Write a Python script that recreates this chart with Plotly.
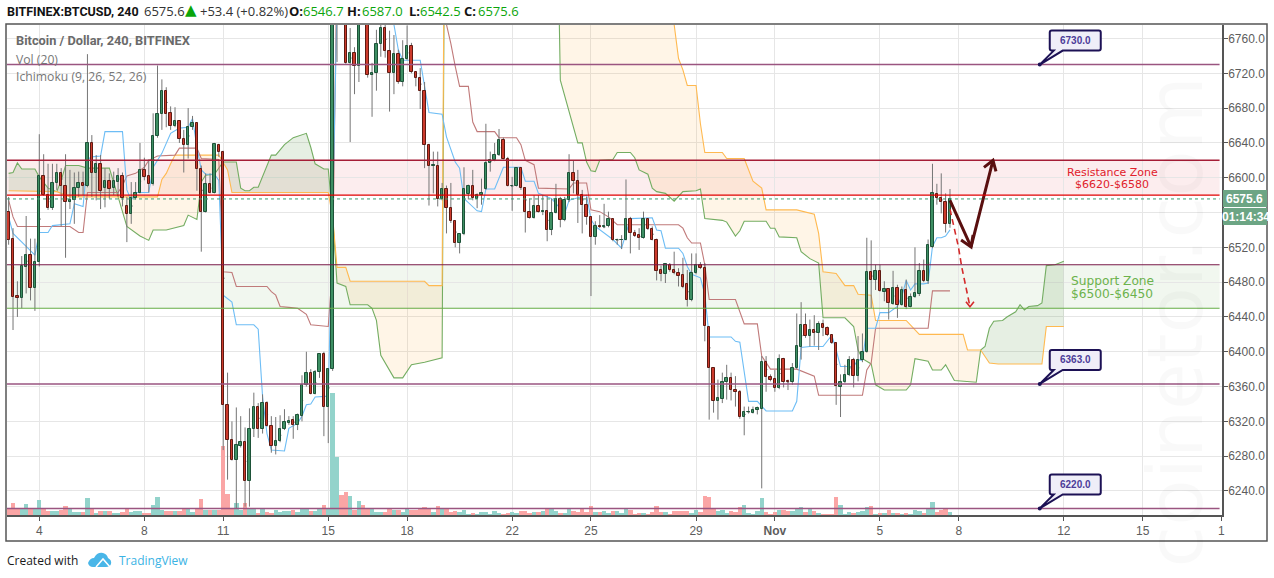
import pandas as pd
import plotly.graph_objects as go

# ------------------------------------------------------------------------------
# 1. DATA (BITFINEX BTCUSD, 4h candles)
# ------------------------------------------------------------------------------
START_TIME = "2018-10-02 20:00"
AXIS_RANGE = ["2018-10-02 18:30", "2018-11-18 00:30"]

OPENS = [
    6561,6530,6464,6462,6497,6511,6473,6503,6602,6580,
    6565,6594,6606,6591,6572,6574,6588,6594,6590,6640,
    6606,6616,6588,6596,6588,6595,6602,6567,6558,6577,
    6583,6609,6602,6593,6648,6673,6700,6674,6660,6665,
    6644,6638,6658,6663,6610,6561,6593,6583,6638,6630,
    6339,6299,6276,6292,6296,6252,6311,6336,6311,6341,
    6315,6292,6297,6311,6318,6322,6316,6326,6362,6376,
    6352,6377,6397,6337,6380,6870,6920,6860,6732,6743,
    6728,6800,6790,6718,6720,6754,6772,6746,6720,6742,
    6710,6736,6751,6721,6715,6700,6638,6614,6614,6575,
    6587,6565,6550,6525,6535,6581,6591,6576,6580,6587,
    6617,6620,6626,6643,6622,6590,6590,6611,6588,6561,
    6554,6568,6561,6562,6540,6560,6576,6551,6574,6606,
    6596,6580,6569,6555,6532,6545,6543,6544,6552,6528,
    6529,6529,6552,6537,6534,6531,6552,6541,6529,6494,
    6489,6500,6494,6491,6488,6478,6460,6490,6500,6496,
    6428,6381,6343,6346,6365,6370,6356,6354,6325,6331,
    6330,6333,6334,6388,6371,6369,6358,6392,6366,6365,
    6381,6406,6431,6418,6425,6421,6432,6427,6419,6410,
    6360,6365,6373,6390,6372,6391,6400,6492,6482,6493,
    6469,6472,6455,6473,6454,6471,6452,6463,6466,6493,
    6481,6520,6581,6577,6572,6546.7,
]
HIGHS = [
    6578,6542,6481,6510,6556,6530,6530,6650,6627,6616,
    6616,6616,6611,6627,6609,6606,6607,6607,6742,6649,
    6626,6626,6611,6605,6607,6611,6606,6578,6595,6595,
    6640,6623,6621,6674,6729,6713,6704,6682,6681,6666,
    6655,6680,6671,6664,6614,6605,6605,6640,6639,6631,
    6376,6320,6336,6326,6313,6335,6353,6341,6351,6343,
    6326,6325,6327,6334,6326,6326,6329,6373,6400,6380,
    6379,6398,6400,6381,6950,7000,6950,6880,6772,6750,
    6810,6830,6795,6732,6770,6785,6785,6769,6764,6747,
    6758,6775,6755,6722,6726,6710,6639,6630,6630,6594,
    6591,6594,6551,6536,6612,6592,6609,6582,6599,6662,
    6630,6640,6656,6646,6624,6601,6611,6612,6589,6576,
    6580,6580,6580,6579,6576,6593,6578,6578,6627,6620,
    6609,6586,6578,6556,6550,6557,6570,6561,6553,6530,
    6534,6598,6555,6540,6542,6561,6553,6544,6530,6499,
    6502,6502,6515,6496,6508,6494,6513,6513,6503,6502,
    6429,6382,6368,6376,6385,6376,6372,6356,6337,6337,
    6337,6337,6395,6395,6374,6379,6397,6393,6368,6387,
    6444,6457,6444,6437,6442,6435,6437,6429,6420,6411,
    6374,6385,6395,6393,6418,6421,6531,6528,6500,6500,
    6481,6473,6493,6477,6475,6483,6467,6520,6502,6506,
    6529,6616,6593,6605,6582,6587,
]
LOWS = [
    6523,6425,6440,6450,6467,6459,6447,6498,6579,6563,
    6563,6586,6544,6508,6564,6547,6578,6580,6589,6578,
    6574,6564,6566,6576,6580,6578,6567,6526,6547,6575,
    6582,6597,6583,6591,6646,6655,6658,6655,6658,6640,
    6606,6622,6655,6585,6515,6560,6582,6582,6624,6287,
    6253,6275,6220,6290,6222,6222,6302,6301,6306,6314,
    6284,6282,6296,6310,6316,6300,6310,6320,6360,6351,
    6351,6370,6303,6295,6378,6733,6800,6731,6641,6696,
    6710,6780,6715,6670,6700,6739,6738,6676,6696,6708,
    6705,6735,6720,6705,6679,6611,6568,6582,6567,6574,
    6536,6548,6520,6513,6534,6575,6574,6565,6569,6586,
    6607,6619,6625,6621,6590,6562,6590,6586,6537,6553,
    6553,6560,6557,6527,6534,6559,6543,6550,6572,6582,
    6548,6536,6546,6464,6523,6542,6542,6543,6527,6523,
    6518,6528,6513,6532,6517,6530,6540,6528,6482,6481,
    6479,6492,6489,6475,6473,6452,6458,6489,6495,6412,
    6322,6330,6322,6341,6345,6344,6337,6323,6304,6329,
    6329,6328,6243,6354,6366,6354,6357,6359,6356,6362,
    6380,6391,6416,6406,6407,6402,6418,6418,6409,6339,
    6325,6364,6372,6359,6366,6388,6399,6450,6471,6469,
    6458,6437,6454,6439,6453,6449,6451,6462,6464,6480,
    6478,6519,6569,6559,6537,6542.5,
]
CLOSES = [
    6528,6463,6462,6498,6511,6473,6503,6602,6580,6565,
    6594,6606,6591,6572,6574,6588,6594,6590,6640,6606,
    6616,6585,6596,6587,6596,6602,6577,6558,6577,6583,
    6609,6601,6593,6648,6673,6700,6673,6660,6665,6645,
    6638,6658,6663,6610,6561,6593,6583,6639,6630,6339,
    6299,6276,6293,6296,6252,6311,6336,6311,6341,6315,
    6292,6297,6311,6319,6321,6316,6327,6362,6376,6352,
    6377,6397,6337,6380,6870,6920,6860,6732,6743,6728,
    6800,6790,6718,6720,6754,6772,6746,6720,6742,6710,
    6736,6751,6721,6715,6700,6638,6614,6615,6575,6587,
    6565,6550,6525,6535,6587,6591,6577,6580,6582,6617,
    6620,6626,6643,6622,6591,6591,6611,6588,6561,6554,
    6568,6561,6562,6540,6560,6576,6551,6574,6606,6596,
    6580,6569,6555,6532,6545,6543,6544,6552,6528,6529,
    6529,6552,6537,6533,6531,6552,6541,6529,6493,6489,
    6501,6494,6490,6487,6474,6460,6490,6500,6496,6430,
    6381,6343,6347,6365,6370,6356,6354,6325,6331,6331,
    6333,6335,6388,6371,6368,6358,6392,6365,6365,6381,
    6407,6431,6418,6425,6421,6432,6427,6419,6410,6361,
    6365,6373,6390,6372,6391,6400,6492,6482,6493,6470,
    6472,6456,6473,6454,6471,6452,6463,6467,6493,6481,
    6523,6582,6577,6572,6546.7,6575.6,
]
VOLUMES = [
    19,35,17,19,32,17,17,44,21,12,
    11,11,15,26,20,8,8,8,50,20,
    5,11,11,11,4,4,8,17,8,11,
    13,7,7,29,53,14,11,11,11,11,
    21,17,9,22,47,15,15,15,15,206,
    62,20,37,14,35,20,20,7,20,9,
    7,14,9,11,11,14,8,18,20,11,
    11,19,29,22,365,175,60,69,57,15,
    42,30,20,20,9,9,9,20,15,15,
    9,17,15,15,18,24,20,9,27,18,
    20,9,12,9,15,3,6,3,9,9,
    3,12,6,3,6,9,7,12,12,6,
    9,9,12,20,18,12,6,6,18,12,
    9,18,9,27,9,9,12,6,12,12,
    6,20,15,3,6,6,3,9,27,9,
    9,3,12,12,12,12,6,15,9,57,
    54,21,12,15,6,12,9,24,30,6,
    3,12,51,9,3,9,15,15,12,12,
    18,24,9,18,12,6,3,3,3,54,
    30,3,9,6,9,12,24,27,3,6,
    6,15,6,6,3,6,3,15,12,6,
    21,39,9,15,21,9,
]

# Ichimoku lines: bar number and price at each bend
TENKAN_BARS = [0,1,4,6,7,9,10,14,15,17,18,19,21,22,26,27,28,29,32,33,35,37,39,41,42,43,44,45,47,48,
               49,51,52,56,57,58,59,60,63,64,66,67,68,69,70,73,74,75,87,88,89,90,94,95,96,99,100,102,
               103,104,107,108,109,111,113,117,118,120,121,124,127,128,132,133,134,138,140,142,147,148,
               149,150,153,154,155,156,158,159,160,165,166,167,169,171,173,179,180,181,183,186,188,189,
               190,193,194,195,196,198,199,201,203,204,205,206,207,209,210,211,212,213,214,215]
TENKAN_VALUES = [6555,6536,6521,6511,6537,6537,6545,6547,6570,6567,6621,6624,6625,6653,6653,6586,6574,6583,
                 6583,6612,6628,6651,6657,6658,6668,6635,6609,6604,6604,6597,6465,6457,6431,6431,6426,6348,
                 6306,6287,6286,6312,6318,6326,6339,6340,6348,6349,6560,6800,6800,6776,6747,6735,6735,6705,
                 6675,6673,6647,6618,6611,6576,6562,6561,6587,6587,6612,6612,6596,6596,6582,6576,6559,6574,
                 6580,6552,6544,6529,6519,6553,6554,6540,6539,6519,6519,6513,6498,6489,6485,6466,6417,6417,
                 6412,6411,6343,6343,6332,6332,6343,6405,6406,6406,6419,6402,6383,6383,6391,6390,6427,6427,
                 6445,6445,6452,6464,6482,6471,6478,6478,6479,6521,6531,6531,6533,6540]

KIJUN_BARS = [0,1,2,14,16,17,18,25,26,27,29,31,32,34,38,39,43,44,48,49,51,52,59,60,61,62,64,66,68,69,73,74,
              75,99,100,101,102,103,105,106,107,111,112,116,117,118,120,121,128,129,132,133,135,137,139,
              153,154,155,156,158,159,160,166,167,168,171,172,174,180,184,185,195,196,197,198,210,211,215]
KIJUN_VALUES = [6574,6555,6544,6544,6537,6537,6583,6583,6591,6602,6605,6612,6620,6625,6626,6634,6634,6622,
                6621,6492,6491,6475,6475,6469,6465,6452,6451,6450,6443,6431,6429,6498,6860,6860,6776,6754,
                6728,6705,6705,6664,6653,6653,6646,6646,6638,6620,6615,6588,6587,6594,6594,6563,6561,6555,
                6546,6546,6542,6531,6525,6525,6500,6460,6460,6445,6432,6432,6395,6380,6380,6372,6350,6350,
                6379,6387,6427,6427,6470,6470]

SPAN_A_BARS = [0,1,2,3,6,7,9,11,12,13,16,18,23,24,25,26,27,30,32,33,36,40,41,43,44,45,47,49,52,53,54,55,56,57,
               60,61,63,65,68,69,70,72,73,74,75,77,78,82,83,84,85,88,90,92,95,99,100,125,126,130,131,132,
               133,134,135,138,139,142,143,144,146,147,148,150,152,154,157,158,159,163,164,166,167,168,173,
               174,175,176,180,181,183,185,186,191,193,194,195,197,198,200,205,206,207,210,211,213,214,216,
               221,222,223,224,225,227,228,230,231,232,233,235,236,237,239,241]
SPAN_A_VALUES = [6605,6606,6617,6610,6610,6601,6588,6584,6597,6614,6614,6611,6611,6593,6578,6561,6544,6533,
                 6528,6540,6540,6545,6557,6552,6595,6603,6604,6618,6618,6588,6585,6585,6589,6589,6626,6626,
                 6638,6646,6651,6635,6616,6610,6610,6555,6479,6475,6454,6454,6450,6436,6396,6370,6370,6385,
                 6388,6393,7300,7000,6712,6640,6640,6618,6608,6607,6620,6621,6629,6629,6623,6609,6604,6588,
                 6584,6582,6573,6584,6585,6587,6553,6551,6549,6533,6539,6550,6550,6542,6542,6532,6531,6515,
                 6507,6502,6439,6439,6429,6402,6392,6386,6362,6356,6356,6362,6392,6389,6379,6379,6385,6367,
                 6365,6402,6406,6427,6435,6436,6440,6446,6454,6448,6452,6453,6456,6499,6500,6504]

SPAN_B_BARS = [0,11,14,25,34,35,36,37,38,48,49,50,51,73,74,75,77,78,95,96,99,100,151,152,153,154,155,157,158,
               159,163,164,168,170,172,173,180,184,185,186,189,191,193,194,197,198,205,208,218,219,222,224,
               226,236,237,241]
SPAN_B_VALUES = [6585,6584,6578,6578,6578,6598,6605,6616,6626,6626,6618,6609,6583,6583,6555,6497,6497,6481,
                 6481,6476,6476,7300,7100,6776,6737,6724,6706,6706,6662,6629,6629,6622,6622,6596,6588,6563,
                 6563,6558,6536,6492,6490,6476,6476,6466,6465,6436,6436,6420,6420,6402,6402,6387,6386,6386,
                 6429,6429]

# cloud pieces between the places where the two spans cross
CLOUD_PIECES = [(0, 25, "green"), (25, 49, "orange"), (49, 74, "green"), (74, 222, "orange"), (222, 241, "green")]

# drawings
RESISTANCE_ZONE = [6580, 6620]
SUPPORT_ZONE = [6450, 6500]
CALLOUT_LEVELS = [6730, 6363, 6220]
CALLOUT_TIME = "2018-11-11 02:00"
LAST_PRICE = 6575.6
PLAN_TIMES = ["2018-11-07 16:00", "2018-11-08 11:15", "2018-11-09 07:15"]
PLAN_PRICES = [6574, 6520.4, 6620]
ALT_TIMES = ["2018-11-07 16:00", "2018-11-07 23:40", "2018-11-08 02:40", "2018-11-08 10:15"]
ALT_PRICES = [6563.7, 6520.7, 6497.8, 6451.8]

TICK_DATES = ["2018-10-04", "2018-10-08", "2018-10-11", "2018-10-15", "2018-10-18", "2018-10-22", "2018-10-25",
              "2018-10-29", "2018-11-01", "2018-11-05", "2018-11-08", "2018-11-12", "2018-11-15", "2018-11-18"]
TICK_LABELS = ["4", "8", "11", "15", "18", "22", "25", "29", "<b>Nov</b>", "5", "8", "12", "15", "1"]
PRICE_TICKS = [6240, 6280, 6320, 6360, 6400, 6440, 6480, 6520, 6560, 6600, 6640, 6680, 6720, 6760]
# the 6560 label sits under the countdown box in the reference
PRICE_LABELS = ["6240.0", "6280.0", "6320.0", "6360.0", "6400.0", "6440.0", "6480.0", "6520.0", "",
                "6600.0", "6640.0", "6680.0", "6720.0", "6760.0"]

# ------------------------------------------------------------------------------
# 2. STYLE
# ------------------------------------------------------------------------------
W, H = 1274, 578
LEFT, RIGHT, TOP, BOTTOM = 7, 1222, 25, 515
PRICE_RANGE = [6212.4, 6775.5]
VOLUME_RANGE = [0, 1470]

GRID = "#e6e6e6"
FRAME = "#555555"
TEXT = "#5d5d5d"
UI_FONT = "Open Sans, sans-serif"
BOLD_FONT = "Roboto, sans-serif"
AXIS_FONT = "Liberation Sans, Arial, sans-serif"
DRAW_FONT = "DejaVu Sans, sans-serif"


def px(x):
    return (x - LEFT) / (RIGHT - LEFT)


def py(y):
    return (BOTTOM - y) / (BOTTOM - TOP)


times = pd.date_range(START_TIME, periods=len(CLOSES) + 26, freq="4h")
bar_ms = 4 * 3600 * 1000

fig = go.Figure()

# ------------------------------------------------------------------------------
# 3. TRACES (layers: y = volume, y2 = ichimoku, y3 = wicks, y4 = candle bodies)
# ------------------------------------------------------------------------------
fig.add_trace(go.Bar(
    x=times[:len(VOLUMES)], y=VOLUMES, width=bar_ms, yaxis="y", hoverinfo="skip",
    marker=dict(color=["#93d3cb" if c >= o else "#faa5a5" for o, c in zip(OPENS, CLOSES)], line_width=0),
))

CLOUD_COLORS = {"green": "rgba(86,150,70,0.15)", "orange": "rgba(255,160,40,0.11)"}
for first, last, name in CLOUD_PIECES:
    a = [(b, v) for b, v in zip(SPAN_A_BARS, SPAN_A_VALUES) if first <= b <= last]
    b_side = [(b, v) for b, v in zip(SPAN_B_BARS, SPAN_B_VALUES) if first <= b <= last][::-1]
    ring = a + b_side
    fig.add_trace(go.Scatter(
        x=[times[b] for b, _ in ring], y=[v for _, v in ring], yaxis="y2", mode="lines",
        fill="toself", fillcolor=CLOUD_COLORS[name], line_width=0, hoverinfo="skip",
    ))

for bars, values, color in [
    (SPAN_A_BARS, SPAN_A_VALUES, "#74ad62"),
    (SPAN_B_BARS, SPAN_B_VALUES, "#ffb950"),
    (KIJUN_BARS, KIJUN_VALUES, "#c07a7a"),
    (TENKAN_BARS, TENKAN_VALUES, "#6dbdf5"),
]:
    fig.add_trace(go.Scatter(
        x=[times[b] for b in bars], y=values, yaxis="y2", mode="lines",
        line=dict(color=color, width=1.1), hoverinfo="skip",
    ))

# wicks only: the open and close are collapsed here, the bodies are the bars below
mids = [(o + c) / 2 for o, c in zip(OPENS, CLOSES)]
fig.add_trace(go.Candlestick(
    x=times[:len(CLOSES)], open=mids, high=HIGHS, low=LOWS, close=mids, yaxis="y3",
    increasing=dict(line=dict(color="#757575", width=1), fillcolor="#757575"),
    decreasing=dict(line=dict(color="#757575", width=1), fillcolor="#757575"),
    whiskerwidth=0, hoverinfo="skip",
))

fig.add_trace(go.Bar(
    x=times[:len(CLOSES)],
    base=[min(o, c) for o, c in zip(OPENS, CLOSES)],
    y=[abs(c - o) for o, c in zip(OPENS, CLOSES)],
    width=bar_ms * 0.55, yaxis="y4", hoverinfo="skip",
    marker=dict(
        color=["#3d8f63" if c >= o else "#cc3a2c" for o, c in zip(OPENS, CLOSES)],
        line=dict(color=["#1d5238" if c >= o else "#5e1a12" for o, c in zip(OPENS, CLOSES)], width=1),
    ),
))

fig.add_trace(go.Scatter(x=ALT_TIMES, y=ALT_PRICES, yaxis="y4", mode="lines", hoverinfo="skip",
                         line=dict(color="#d42a2a", width=1.6, dash="6px,4px")))
fig.add_trace(go.Scatter(x=PLAN_TIMES, y=PLAN_PRICES, yaxis="y4", mode="lines", hoverinfo="skip",
                         line=dict(color="#5a0f0f", width=3)))

# ------------------------------------------------------------------------------
# 4. SHAPES
# ------------------------------------------------------------------------------
shapes = []


def hline(value, color, width, dash="solid"):
    shapes.append(dict(type="line", xref="paper", yref="y2", x0=0, x1=0.998, y0=value, y1=value,
                       line=dict(color=color, width=width, dash=dash)))


def pixel_path(x, y, path, **style):
    shapes.append(dict(type="path", xref="x", yref="y2", xsizemode="pixel", ysizemode="pixel",
                       xanchor=x, yanchor=y, path=path, **style))


shapes.append(dict(type="rect", xref="paper", yref="y2", x0=0, x1=0.998, y0=RESISTANCE_ZONE[0], y1=RESISTANCE_ZONE[1],
                   fillcolor="rgba(225,60,70,0.09)", line_width=0, layer="below"))
shapes.append(dict(type="rect", xref="paper", yref="y2", x0=0, x1=0.998, y0=SUPPORT_ZONE[0], y1=SUPPORT_ZONE[1],
                   fillcolor="rgba(100,170,80,0.09)", line_width=0, layer="below"))
hline(RESISTANCE_ZONE[1], "#a51d36", 1.6)
hline(RESISTANCE_ZONE[0], "#e00000", 1.2)
hline(SUPPORT_ZONE[1], "#7a1848", 1.2)
hline(SUPPORT_ZONE[0], "#66ac46", 1.2)
for level in CALLOUT_LEVELS:
    hline(level, "#9a5580", 1.5)
hline(LAST_PRICE, "#3b9a6e", 1, "dot")

# arrow heads of the two drawn paths
pixel_path(PLAN_TIMES[1], PLAN_PRICES[1], "M -10,7 L 0,0 L 2,12", line=dict(color="#5a0f0f", width=3))
pixel_path(PLAN_TIMES[2], PLAN_PRICES[2], "M -9,-7 L 0,0 L 3,-11", line=dict(color="#5a0f0f", width=3))
pixel_path(ALT_TIMES[3], ALT_PRICES[3], "M -4,5 L 0,0 L 4,5", line=dict(color="#d42a2a", width=1.6))

# price callouts
for level in CALLOUT_LEVELS:
    pixel_path(CALLOUT_TIME, level,
               "M 0,0 L 23,14 L 59,14 Q 61,14 61,16 L 61,32 Q 61,34 59,34 L 12,34 "
               "Q 10,34 10,32 L 10,16 Q 10,14 12,14 L 14,14 Z",
               fillcolor="#efeef8", line=dict(color="#1c1155", width=2))
    shapes.append(dict(type="circle", xref="x", yref="y2", xsizemode="pixel", ysizemode="pixel",
                       xanchor=CALLOUT_TIME, yanchor=level, x0=-2, x1=2, y0=-2, y1=2,
                       fillcolor="#1c1155", line_width=0))

# outer frame and last price boxes
shapes.append(dict(type="rect", xref="paper", yref="paper", x0=px(6), x1=px(1267), y0=py(541), y1=py(24),
                   line=dict(color=FRAME, width=1.5), layer="below"))
shapes.append(dict(type="rect", xref="paper", yref="paper", x0=px(1223), x1=px(1267), y0=py(207), y1=py(190),
                   fillcolor="#6ca584", line_width=0))
shapes.append(dict(type="rect", xref="paper", yref="paper", x0=px(1223), x1=px(1267), y0=py(225), y1=py(208),
                   fillcolor="#6ca584", line_width=0))

# TradingView logo
shapes.append(dict(type="path", xref="paper", yref="paper", fillcolor="#49b6e8", line_width=0, path=(
    f"M {px(88)},{py(563)} Q {px(90)},{py(558)} {px(94)},{py(558)} Q {px(97)},{py(552)} {px(103)},{py(553)} "
    f"Q {px(107)},{py(554)} {px(108)},{py(558)} Q {px(112)},{py(560)} {px(111)},{py(564)} "
    f"Q {px(110)},{py(567)} {px(106)},{py(567)} L {px(93)},{py(567)} Q {px(89)},{py(567)} {px(88)},{py(563)} Z")))
shapes.append(dict(type="path", xref="paper", yref="paper", line=dict(color="white", width=1.5), path=(
    f"M {px(96)},{py(567)} L {px(103)},{py(559)} L {px(110)},{py(567)}")))

# ------------------------------------------------------------------------------
# 5. TEXT
# ------------------------------------------------------------------------------
annotations = []


def label(x, y, text, size=12, color=TEXT, anchor="left", family=UI_FONT):
    annotations.append(dict(xref="paper", yref="paper", x=px(x), y=py(y), text=text, showarrow=False,
                            xanchor=anchor, yanchor="middle", xshift=0, borderpad=0,
                            font=dict(size=size, color=color, family=family)))


# watermark goes first so that everything else stays readable on it
annotations.append(dict(xref="paper", yref="paper", x=px(1222), y=py(322), text="coinetor.com", showarrow=False,
                        textangle=-90, font=dict(size=76, color="rgba(0,0,0,0.025)", family=DRAW_FONT)))

label(6, 11, "<b>BITFINEX:BTCUSD, 240</b>", 12.5, "#131313", family=BOLD_FONT)
label(143, 11, "6575.6", 13, "#333333")
label(184, 10, "▲", 15, "#0aa50a", family=DRAW_FONT)
label(199, 11, "+53.4 (+0.82%)", 13, "#333333")
for x_key, x_val, key, val in [(288, 302, "O:", "6546.7"), (346, 361, "H:", "6587.0"),
                               (408, 419, "L:", "6542.5"), (463, 477, "C:", "6575.6")]:
    label(x_key, 11, f"<b>{key}</b>", 13, "#131313")
    label(x_val, 11, val, 13, "#0aa50a")

label(15, 41, "<b>Bitcoin / Dollar, 240, BITFINEX</b>", 12.8, "#6a6a6a", family=BOLD_FONT)
label(15, 59, "Vol (20)", 12.2, "#777777")
label(15, 76, "Ichimoku (9, 26, 52, 26)", 12.2, "#777777")

label(1112, 172.5, "Resistance Zone", 11, "#e0212b", "center", DRAW_FONT)
label(1112, 184.5, "$6620-$6580", 11, "#e0212b", "center", DRAW_FONT)
label(1112, 280.5, "Support Zone", 12.2, "#6cb24c", "center", DRAW_FONT)
label(1112, 293.5, "$6500-$6450", 12.2, "#6cb24c", "center", DRAW_FONT)

for level in CALLOUT_LEVELS:
    annotations.append(dict(xref="x", yref="y2", x=CALLOUT_TIME, y=level, text=f"<b>{level:.1f}</b>", showarrow=False,
                            xshift=35.5, yshift=24, font=dict(size=10, color="#4c3c99", family=AXIS_FONT)))

label(1245, 198.5, f"<b>{LAST_PRICE:.1f}</b>", 12, "#ffffff", "center", AXIS_FONT)
label(1246, 216.5, "<b>01:14:34</b>", 12, "#ffffff", "center", AXIS_FONT)

label(6, 560, "Created with", 12, "#1a1a1a")
label(118, 560, "TradingView", 12, "#3bb3e4")

# ------------------------------------------------------------------------------
# 6. LAYOUT
# ------------------------------------------------------------------------------
hidden = dict(overlaying="y", range=PRICE_RANGE, visible=False, fixedrange=True)

fig.update_layout(
    width=W, height=H,
    margin=dict(l=LEFT, r=W - RIGHT, t=TOP, b=H - BOTTOM, pad=0, autoexpand=False),
    paper_bgcolor="white", plot_bgcolor="white",
    showlegend=False, barmode="overlay", bargap=0, hovermode=False,
    shapes=shapes, annotations=annotations,
    xaxis=dict(
        type="date", range=AXIS_RANGE, tickmode="array", tickvals=TICK_DATES, ticktext=TICK_LABELS,
        showgrid=True, gridcolor=GRID, gridwidth=1.3, zeroline=False, rangeslider=dict(visible=False),
        showline=True, linecolor=FRAME, linewidth=1.5, ticks="outside", ticklen=4, tickcolor=FRAME,
        tickangle=0, tickfont=dict(size=12, color=TEXT, family=AXIS_FONT),
    ),
    yaxis=dict(range=VOLUME_RANGE, visible=False, fixedrange=True),
    yaxis2=dict(
        overlaying="y", side="right", range=PRICE_RANGE, tickmode="array", tickvals=PRICE_TICKS, ticktext=PRICE_LABELS,
        showgrid=True, gridcolor=GRID, gridwidth=1.3, zeroline=False,
        showline=True, linecolor=FRAME, linewidth=1.5, ticks="outside", ticklen=4, tickcolor=FRAME,
        ticklabelstandoff=-2, tickfont=dict(size=12, color=TEXT, family=AXIS_FONT),
    ),
    yaxis3=hidden,
    yaxis4=hidden,
)

fig.write_html("out.html", config=dict(displayModeBar=False), post_script="document.body.style.margin='0';")
